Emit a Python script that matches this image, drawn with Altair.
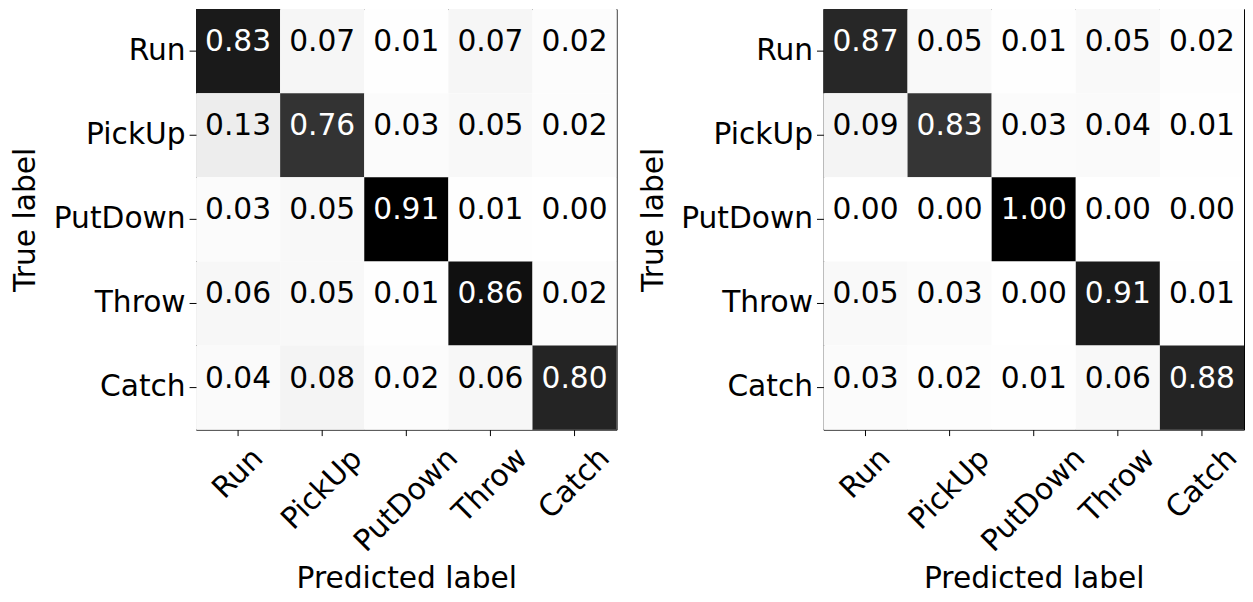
import altair as alt
import pandas as pd

categories = ["Run", "PickUp", "PutDown", "Throw", "Catch"]

left_values = [
    [0.83, 0.07, 0.01, 0.07, 0.02],
    [0.13, 0.76, 0.03, 0.05, 0.02],
    [0.03, 0.05, 0.91, 0.01, 0.00],
    [0.06, 0.05, 0.01, 0.86, 0.02],
    [0.04, 0.08, 0.02, 0.06, 0.80],
]

right_values = [
    [0.87, 0.05, 0.01, 0.05, 0.02],
    [0.09, 0.83, 0.03, 0.04, 0.01],
    [0.00, 0.00, 1.00, 0.00, 0.00],
    [0.05, 0.03, 0.00, 0.91, 0.01],
    [0.03, 0.02, 0.01, 0.06, 0.88],
]

x_title = "Predicted label"
y_title = "True label"

# ColorBrewer "Greys" ramp (as matplotlib's Greys colormap)
greys = ["#ffffff", "#f0f0f0", "#d9d9d9", "#bdbdbd", "#969696",
         "#737373", "#525252", "#252525", "#000000"]

FONT = "DejaVu Sans"
# per-label offset of rotated x tick labels (matplotlib centres each rotated label's box)
x_label_pad = {"Run": 38, "PickUp": 54, "PutDown": 65, "Throw": 50, "Catch": 48}


def panel(values):
    rows = []
    for i, t in enumerate(categories):
        for j, p in enumerate(categories):
            rows.append({"true": t, "pred": p, "v": values[i][j]})
    df = pd.DataFrame(rows)
    vmax = max(max(r) for r in values)
    stops = [vmax * k / (len(greys) - 1) for k in range(len(greys))]

    xaxis = alt.Axis(
        title=x_title,
        labelAngle=-45,
        labelAlign="center",
        labelBaseline="middle",
        labelFont=FONT,
        labelFontSize=30,
        labelColor="black",
        labelPadding={
            "condition": [
                {"test": f"datum.value === '{c}'", "value": v}
                for c, v in x_label_pad.items()
            ],
            "value": 50,
        },
        tickSize=6,
        tickColor="black",
        domain=False,
        titleFont=FONT,
        titleFontSize=30,
        titleFontWeight="normal",
        titleColor="black",
        titleBaseline="alphabetic",
        titleY=160,
        labelOverlap=False,
    )
    yaxis = alt.Axis(
        title=y_title,
        labelFont=FONT,
        labelFontSize=30,
        labelColor="black",
        labelPadding=4,
        tickSize=7,
        tickColor="black",
        domain=False,
        titleFont=FONT,
        titleFontSize=30,
        titleFontWeight="normal",
        titleColor="black",
        titleBaseline="alphabetic",
        titleX=-163,
        titleY=212.5,
        labelOverlap=False,
    )

    base = alt.Chart(df).encode(
        x=alt.X("pred:N", sort=categories, axis=xaxis,
                scale=alt.Scale(paddingInner=0, paddingOuter=0)),
        y=alt.Y("true:N", sort=categories, axis=yaxis,
                scale=alt.Scale(paddingInner=0, paddingOuter=0)),
    )
    rect = base.mark_rect().encode(
        color=alt.Color("v:Q", scale=alt.Scale(domain=stops, range=greys, interpolate="rgb"),
                        legend=None),
    )
    text = base.mark_text(baseline="alphabetic", align="center", font=FONT, fontSize=30).encode(
        text=alt.Text("v:Q", format=".2f"),
        color=alt.when(alt.datum.v > vmax / 2).then(alt.value("white")).otherwise(alt.value("black")),
    )
    return alt.layer(rect, text).properties(width=425, height=425)


chart = (
    alt.hconcat(panel(left_values), panel(right_values), spacing=20)
    .resolve_scale(color="independent")
    .properties(padding={"left": 2, "top": -3, "right": 0, "bottom": -4})
    .configure_view(stroke="black", strokeWidth=1)
)

chart.save("out.html", embed_options={"renderer": "svg", "actions": False})
